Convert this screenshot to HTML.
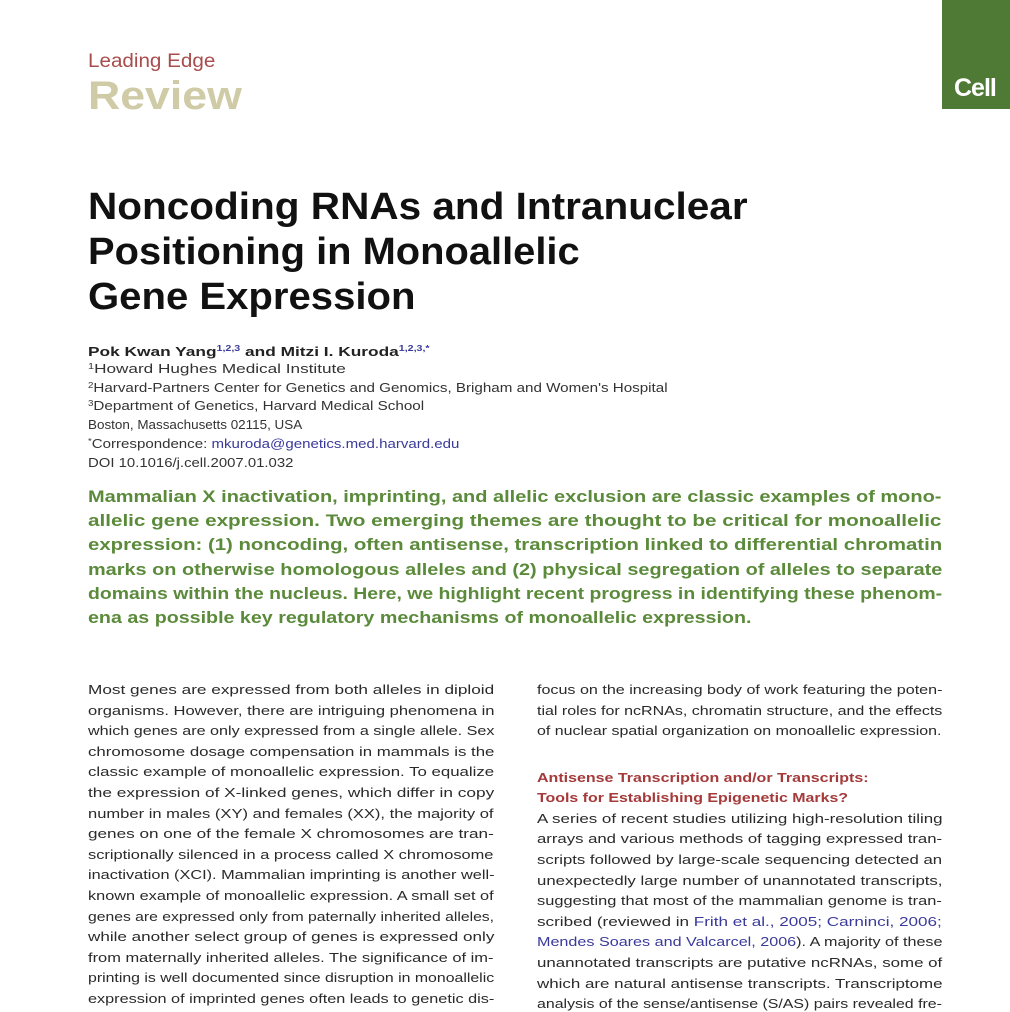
<!DOCTYPE html>
<html><head><meta charset="utf-8">
<style>
html,body{margin:0;padding:0;background:#fff;}
body{width:1010px;height:1010px;position:relative;overflow:hidden;font-family:"Liberation Sans",Arial,sans-serif;}
.l{position:absolute;white-space:nowrap;display:inline-block;transform-origin:0 50%;}
.b{font-size:13px;color:#2a2a2a;line-height:16px;}
.g{font-size:17px;font-weight:bold;color:#5a8a3a;line-height:20px;}
.t{font-size:38px;font-weight:bold;color:#111;line-height:40px;}
.a{font-size:12.5px;color:#333;line-height:15px;}
.lnk{color:#3a3a9a;}
.red{color:#a43a3a;font-weight:bold;}
sup{font-size:8px;color:#3a3a9a;vertical-align:5px;line-height:0;}
.s{font-size:8px;vertical-align:4px;line-height:0;}
</style></head><body>
<div style="position:absolute;left:942px;top:0;width:68px;height:109px;background:#4f7a36;"></div>
<div class="l" style="left:954px;top:74px;font-size:25px;font-weight:bold;color:#fff;letter-spacing:-1px;">Cell</div>
<div class="l" data-w="127" style="left:88px;top:51px;font-size:19px;color:#a94c4c;">Leading Edge</div>
<div class="l" data-w="154" style="left:88px;top:74px;font-size:40px;font-weight:bold;color:#cfcba6;">Review</div>

<div class="l t" data-w="660" style="left:88px;top:187px;">Noncoding RNAs and Intranuclear</div>
<div class="l t" data-w="492" style="left:88px;top:232px;">Positioning in Monoallelic</div>
<div class="l t" data-w="327" style="left:88px;top:277px;">Gene Expression</div>

<div class="l a" data-w="342" style="left:88px;top:344px;font-weight:bold;color:#222;font-size:13px;">Pok Kwan Yang<sup>1,2,3</sup> and Mitzi I. Kuroda<sup>1,2,3,*</sup></div>
<div class="l a" data-w="258" style="left:88px;top:362px;"><span class="s">1</span>Howard Hughes Medical Institute</div>
<div class="l a" data-w="580" style="left:88px;top:381px;"><span class="s">2</span>Harvard-Partners Center for Genetics and Genomics, Brigham and Women's Hospital</div>
<div class="l a" data-w="336" style="left:88px;top:399px;"><span class="s">3</span>Department of Genetics, Harvard Medical School</div>
<div class="l a" data-w="214" style="left:88px;top:418px;">Boston, Massachusetts 02115, USA</div>
<div class="l a" data-w="371" style="left:88px;top:437px;"><span class="s">*</span>Correspondence: <span class="lnk">mkuroda@genetics.med.harvard.edu</span></div>
<div class="l a" data-w="205" style="left:88px;top:456px;">DOI 10.1016/j.cell.2007.01.032</div>

<div id="abs"></div>
<div id="left"></div>
<div id="right"></div>

<script>
const absLines=[
["Mammalian X inactivation, imprinting, and allelic exclusion are classic examples of mono-",854],
["allelic gene expression. Two emerging themes are thought to be critical for monoallelic",854],
["expression: (1) noncoding, often antisense, transcription linked to differential chromatin",854],
["marks on otherwise homologous alleles and (2) physical segregation of alleles to separate",854],
["domains within the nucleus. Here, we highlight recent progress in identifying these phenom-",854],
["ena as possible key regulatory mechanisms of monoallelic expression.",664]];
const leftLines=["Most genes are expressed from both alleles in diploid","organisms. However, there are intriguing phenomena in","which genes are only expressed from a single allele. Sex","chromosome dosage compensation in mammals is the","classic example of monoallelic expression. To equalize","the expression of X-linked genes, which differ in copy","number in males (XY) and females (XX), the majority of","genes on one of the female X chromosomes are tran-","scriptionally silenced in a process called X chromosome","inactivation (XCI). Mammalian imprinting is another well-","known example of monoallelic expression. A small set of","genes are expressed only from paternally inherited alleles,","while another select group of genes is expressed only","from maternally inherited alleles. The significance of im-","printing is well documented since disruption in monoallelic","expression of imprinted genes often leads to genetic dis-"];
const rightLines=[
["focus on the increasing body of work featuring the poten-",0,405],
["tial roles for ncRNAs, chromatin structure, and the effects",1,405],
["of nuclear spatial organization on monoallelic expression.",2,405],
["<span class='red'>Antisense Transcription and/or Transcripts:</span>",4.25,331],
["<span class='red'>Tools for Establishing Epigenetic Marks?</span>",5.25,311],
["A series of recent studies utilizing high-resolution tiling",6.25,405],
["arrays and various methods of tagging expressed tran-",7.25,405],
["scripts followed by large-scale sequencing detected an",8.25,405],
["unexpectedly large number of unannotated transcripts,",9.25,405],
["suggesting that most of the mammalian genome is tran-",10.25,405],
["scribed (reviewed in <span class='lnk'>Frith et al., 2005; Carninci, 2006;</span>",11.25,405],
["<span class='lnk'>Mendes Soares and Valcarcel, 2006</span>). A majority of these",12.25,405],
["unannotated transcripts are putative ncRNAs, some of",13.25,405],
["which are natural antisense transcripts. Transcriptome",14.25,405],
["analysis of the sense/antisense (S/AS) pairs revealed fre-",15.25,405]];
function mk(parent,html,cls,x,cy,w,name,lh){
  const d=document.createElement('div');
  d.className='l '+cls;
  d.innerHTML=html;
  d.style.left=x+'px';d.style.top=(cy-lh/2)+'px';
  d.dataset.w=w;
  
  
  document.body.appendChild(d);
}
absLines.forEach((l,i)=>mk(null,l[0],'g',88,497+i*24.2,l[1],'abstract-line',20));
leftLines.forEach((t,i)=>mk(null,t,'b',88,690+i*20.6,406,'left-body-line',16));
rightLines.forEach(l=>mk(null,l[0],'b',537,690+l[1]*20.6,l[2],'right-body-line',16));
document.querySelectorAll('.l[data-w]').forEach(e=>{
  const w=e.offsetWidth;const tw=+e.dataset.w;
  if(w>0)e.style.transform='scaleX('+(tw/w)+')';
});
</script>
</body></html>
